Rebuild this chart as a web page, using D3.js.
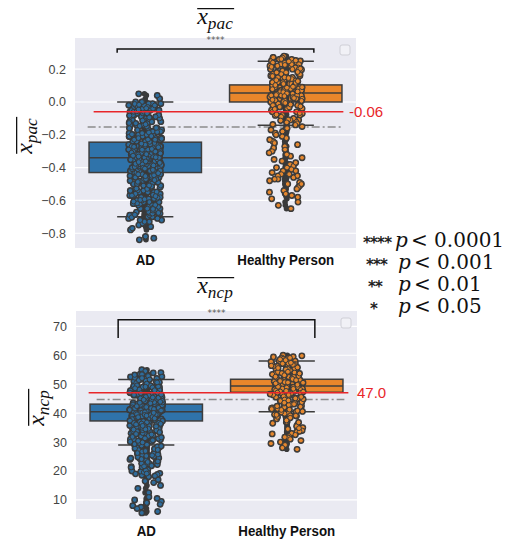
<!DOCTYPE html>
<meta charset="utf-8" />
<title>x_pac / x_ncp : AD vs Healthy Person</title>
<style>
  body { margin: 0; background: #fff; }
  .tick text { font-family: "Liberation Sans", Arial, sans-serif; font-size: 12.5px; fill: #444; }
  .cat { font-family: "Liberation Sans", Arial, sans-serif; font-weight: bold; font-size: 15.5px; fill: #111; }
  .math { font-family: "Liberation Serif", "DejaVu Serif", serif; font-style: italic; fill: #111; }
  .sig { font-family: "DejaVu Serif", serif; font-size: 20px; fill: #111; }
</style>
<body>
<script src="https://d3js.org/d3.v7.min.js"></script>
<script>
// categories
var groups = ["AD", "Healthy Person"];

// strip values, x_pac
var adPac = [
  -0.84, -0.83, -0.82, -0.78, -0.77, -0.76, -0.75, -0.74, -0.73, -0.73, -0.72, -0.72, -0.71, -0.71, -0.70, -0.70, -0.69, -0.69, -0.68, -0.68,
  -0.67, -0.67, -0.66, -0.65, -0.65, -0.64, -0.63, -0.63, -0.62, -0.61, -0.61, -0.60, -0.59, -0.59, -0.58, -0.57, -0.57, -0.56, -0.55, -0.55,
  -0.54, -0.54, -0.53, -0.52, -0.52, -0.51, -0.51, -0.50, -0.50, -0.49, -0.49, -0.48, -0.48, -0.47, -0.47, -0.46, -0.46, -0.46, -0.45, -0.45,
  -0.45, -0.44, -0.44, -0.44, -0.43, -0.43, -0.43, -0.43, -0.42, -0.42, -0.42, -0.42, -0.41, -0.41, -0.41, -0.41, -0.41, -0.40, -0.40, -0.40,
  -0.40, -0.40, -0.39, -0.39, -0.39, -0.39, -0.39, -0.39, -0.38, -0.38, -0.38, -0.38, -0.38, -0.38, -0.37, -0.37, -0.37, -0.37, -0.37, -0.37,
  -0.36, -0.36, -0.36, -0.36, -0.36, -0.36, -0.35, -0.35, -0.35, -0.35, -0.35, -0.35, -0.35, -0.34, -0.34, -0.34, -0.34, -0.34, -0.34, -0.34,
  -0.33, -0.33, -0.33, -0.33, -0.33, -0.33, -0.32, -0.32, -0.32, -0.32, -0.32, -0.32, -0.31, -0.31, -0.31, -0.31, -0.31, -0.31, -0.30, -0.30,
  -0.30, -0.30, -0.30, -0.29, -0.29, -0.29, -0.29, -0.29, -0.28, -0.28, -0.28, -0.28, -0.28, -0.27, -0.27, -0.27, -0.27, -0.26, -0.26, -0.26,
  -0.26, -0.25, -0.25, -0.25, -0.25, -0.24, -0.24, -0.24, -0.23, -0.23, -0.23, -0.22, -0.22, -0.22, -0.21, -0.21, -0.20, -0.20, -0.20, -0.19,
  -0.19, -0.18, -0.18, -0.18, -0.17, -0.17, -0.16, -0.16, -0.15, -0.15, -0.15, -0.14, -0.14, -0.13, -0.13, -0.12, -0.12, -0.11, -0.11, -0.10,
  -0.10, -0.09, -0.09, -0.08, -0.08, -0.07, -0.07, -0.06, -0.06, -0.05, -0.05, -0.04, -0.04, -0.03, -0.03, -0.02, -0.02, -0.01, -0.01, -0.00,
  0.00, 0.00, 0.02, 0.04, 0.05,
  -0.69, -0.67, -0.66, -0.64, -0.62, -0.60, -0.58, -0.56, -0.53, -0.51, -0.49, -0.47, -0.64, -0.61, -0.57, -0.54, -0.50, -0.46, -0.68, -0.59,
  -0.23, -0.21, -0.19, -0.17, -0.14, -0.12, -0.09, -0.07, -0.05, -0.03, -0.01, -0.22, -0.18, -0.16, -0.13, -0.11, -0.08, -0.04, -0.02, -0.20,
  -0.65, -0.63, -0.55, -0.52, -0.48, -0.15, -0.10, -0.06, -0.27, -0.44, -0.36, -0.32, -0.39, -0.29, -0.42, -0.30, -0.38, -0.26, -0.40, -0.34,
  -0.703, -0.662, -0.618, -0.583, -0.541, -0.497, -0.463, -0.418, -0.384, -0.337, -0.302, -0.258, -0.224, -0.183, -0.136, -0.104, -0.057, -0.021, -0.676, -0.644,
  -0.597, -0.566, -0.514, -0.482, -0.447, -0.396, -0.362, -0.318, -0.276, -0.243, -0.197, -0.158, -0.121, -0.083, -0.038, -0.012, -0.671, -0.628, -0.593, -0.548,
  -0.509, -0.471, -0.434, -0.387, -0.352, -0.309, -0.273, -0.229, -0.186, -0.147, -0.113, -0.069, -0.032, -0.687, -0.652, -0.607, -0.574, -0.528, -0.487, -0.452,
  -0.406, -0.371, -0.327, -0.291, -0.254, -0.208, -0.171, -0.128, -0.094, -0.046, -0.017, -0.348, -0.377, -0.414, -0.313, -0.286, -0.441, -0.476, -0.332, -0.366
];
var hpPac = [
  0.28, 0.27, 0.27, 0.26, 0.26, 0.25, 0.25, 0.24, 0.24, 0.23, 0.23, 0.22, 0.22, 0.21, 0.21, 0.20, 0.20, 0.19, 0.19, 0.18,
  0.18, 0.17, 0.17, 0.16, 0.16, 0.15, 0.15, 0.14, 0.14, 0.14, 0.13, 0.13, 0.12, 0.12, 0.12, 0.11, 0.11, 0.11, 0.10, 0.10,
  0.10, 0.09, 0.09, 0.09, 0.08, 0.08, 0.08, 0.07, 0.07, 0.07, 0.06, 0.06, 0.06, 0.05, 0.05, 0.05, 0.04, 0.04, 0.04, 0.03,
  0.03, 0.03, 0.02, 0.02, 0.02, 0.01, 0.01, 0.00, 0.00, -0.01, -0.01, -0.02, -0.02, -0.03, -0.04, -0.04, -0.05, -0.06, -0.07, -0.08,
  -0.09, -0.10, -0.11, -0.12, -0.13, -0.14, -0.15, -0.16, -0.17, -0.18, -0.19, -0.21, -0.22, -0.24, -0.25, -0.27, -0.28, -0.30, -0.31, -0.33,
  -0.34, -0.35, -0.36, -0.38, -0.39, -0.40, -0.41, -0.42, -0.43, -0.44, -0.45, -0.46, -0.47, -0.48, -0.49, -0.50, -0.51, -0.52, -0.54, -0.55,
  -0.56, -0.57, -0.59, -0.61, -0.63, -0.65, -0.20, -0.23, -0.26, -0.29, -0.32, -0.37, -0.40, -0.44, -0.47, -0.50, -0.53, -0.58, -0.45, -0.42,
  0.26, 0.24, 0.22, 0.20, 0.18, 0.16, 0.13, 0.11, 0.09, 0.06, 0.04, 0.01, -0.03, -0.06, -0.08, -0.11, 0.15, 0.19, 0.23, 0.12,
  0.272, 0.253, 0.238, 0.214, 0.197, 0.172, 0.158, 0.133, 0.117, 0.093, 0.078, 0.052, 0.036, 0.013, -0.006, -0.027, -0.043, -0.068, -0.082, -0.107,
  -0.124, 0.262, 0.247, 0.203, 0.168, 0.127, 0.087, 0.043, 0.007, -0.033, -0.077, -0.113, -0.137, 0.226, 0.183, 0.146, 0.103, 0.064, 0.024, -0.016
];

// strip values, x_ncp
var adNcp = [
  55, 54.5, 54, 53.5, 53, 52.5, 52, 52, 51.5, 51, 51, 50.5, 50, 50, 49.5, 49, 49, 48.5, 48, 48,
  47.5, 47, 47, 46.5, 46.5, 46, 46, 45.5, 45.5, 45, 45, 44.5, 44.5, 44, 44, 44, 43.5, 43.5, 43, 43,
  43, 42.5, 42.5, 42.5, 42, 42, 42, 41.5, 41.5, 41.5, 41, 41, 41, 41, 40.5, 40.5, 40.5, 40.5, 40, 40,
  40, 40, 39.5, 39.5, 39.5, 39, 39, 39, 38.5, 38.5, 38.5, 38, 38, 38, 37.5, 37.5, 37, 37, 36.5, 36.5,
  36, 36, 35.5, 35.5, 35, 35, 34.5, 34, 34, 33.5, 33, 33, 32.5, 32, 31.5, 31, 31, 30.5, 30, 29.5,
  29, 28.5, 28, 27.5, 27, 26.5, 26, 25.5, 25, 24.5, 24, 23.5, 23, 22.5, 22, 21.5, 21, 20.5, 20, 19.5,
  19, 18.5, 18, 17, 16.5, 15, 14, 12.5, 11, 10, 9.5, 9, 8.5, 8, 7.5, 7, 6, 5.5, 16, 10.5,
  52.8, 51.2, 49.8, 48.3, 46.8, 45.2, 43.8, 42.2, 40.8, 39.2, 37.8, 36.2, 34.8, 33.2, 31.8, 30.2, 28.8, 27.2, 25.8, 24.2,
  22.8, 21.2, 19.8, 50.7, 47.3, 44.7, 41.7, 38.3, 35.7, 32.7, 29.7, 26.7, 23.7, 20.7, 53.7, 45.8, 37.2, 30.8, 24.8, 42.8,
  48.7, 46.2, 43.2, 39.8, 36.8, 33.8, 28.2, 25.2, 22.2, 19.2, 51.8, 49.2, 41.2, 34.2, 27.8, 21.8, 18.8, 44.2, 38.8, 31.2,
  52.2, 50.2, 48.9, 47.8, 46.1, 45.7, 44.9, 43.4, 42.7, 41.8, 40.2, 39.7, 38.1, 37.3, 36.7, 35.2, 34.6, 33.7, 32.3, 30.6,
  53.2, 51.6, 50.9, 49.4, 47.1, 46.6, 45.3, 44.1, 42.3, 41.3, 40.7, 39.3, 38.7, 37.7, 36.3, 35.8, 34.3, 32.8, 29.3, 26.2,
  53.4, 50.4, 47.6, 45.1, 42.9, 40.3, 38.2, 35.4, 33.1, 30.4, 27.6, 24.4, 21.3, 18.3, 52.6, 49.6, 46.4, 43.7, 41.1, 38.9,
  36.4, 34.1, 31.6, 28.4, 25.7, 22.6, 19.6, 51.4, 48.1, 45.6, 42.1, 39.4, 37.1, 34.9, 32.1, 29.9, 26.9, 23.3, 20.2, 47.9,
  44.3, 41.6, 38.4, 35.1, 31.3, 27.3, 23.1, 53.9, 50.6, 46.9, 43.6, 40.9, 37.9, 34.4, 30.1, 25.4, 21.6, 52.1, 48.6, 45.4,
  42.4, 39.6, 36.6, 33.4, 29.1, 24.1, 19.1, 44.6, 41.4, 38.6, 35.6, 32.6, 28.6, 49.1, 46.3, 43.9, 40.1, 37.4, 36.1, 39.1
];
var hpNcp = [
  60, 59.5, 59, 58.5, 58, 58, 57.5, 57, 57, 56.5, 56, 56, 55.5, 55, 55, 54.5, 54, 54, 53.5, 53,
  53, 52.5, 52.5, 52, 52, 51.5, 51.5, 51, 51, 50.5, 50.5, 50, 50, 50, 49.5, 49.5, 49, 49, 49, 48.5,
  48.5, 48, 48, 48, 47.5, 47.5, 47, 47, 46.5, 46.5, 46, 46, 45.5, 45, 45, 44.5, 44, 43.5, 43, 42.5,
  42, 41.5, 41, 40.5, 40, 39.5, 39, 38.5, 38, 37, 36, 35, 34, 33.5, 33, 32, 31.5, 31, 30, 29,
  28, 27.5, 59.2, 57.8, 56.2, 54.8, 53.2, 51.8, 50.2, 48.8, 47.2, 45.8, 44.2, 42.8, 41.2, 39.8, 58.8, 55.8, 52.8, 49.8,
  46.8, 43.8, 40.8, 57.2, 54.2, 51.2, 48.2, 45.2, 42.2, 39.2, 36.5, 34.5, 32.5, 30.5, 56.8, 53.8, 50.8, 47.8, 44.8, 41.8,
  59.8, 58.2, 56.7, 55.3, 53.7, 52.3, 50.7, 49.3, 47.7, 46.3, 44.7, 43.3, 41.7, 40.3, 38.7, 37.5, 35.5, 33.7, 31.7, 29.5,
  59.4, 58.6, 57.4, 56.4, 55.6, 54.4, 53.4, 52.6, 51.4, 50.6, 49.6, 48.4, 47.4, 46.6, 45.6, 44.4, 43.6, 42.4, 41.4, 40.6,
  39.4, 38.4, 59.1, 57.1, 55.1, 53.1, 51.1, 49.1, 47.1, 45.1, 43.1, 41.1, 39.1, 36.8, 34.8, 32.8, 58.3, 54.3, 50.3, 46.3
];

// box summaries: lower whisker, Q1, median, Q3, upper whisker
var pacBox = [[-0.70, -0.43, -0.34, -0.245, 0.0], [-0.142, 0.0, 0.055, 0.104, 0.248]];
var ncpBox = [[29.0, 37.3, 40.5, 43.1, 51.6], [40.5, 47.2, 49.4, 51.7, 58.0]];

// axis limits and ticks
var pacDomain = [-0.89, 0.39], pacTicks = [-0.8, -0.6, -0.4, -0.2, 0.0, 0.2];
var ncpDomain = [3.4, 75.3], ncpTicks = [10, 20, 30, 40, 50, 60, 70];

// reference lines: red threshold, grey dash-dot
var pacLines = [-0.06, -0.152], ncpLines = [47.0, 44.7];
var pacLabels = ["-0.06"], ncpLabels = ["47.0"];
// significance bracket: bar level, leg end
var pacBracket = [0.323, 0.300], ncpBracket = [72.3, 66.0];

var sigStars = ["****", "***", "**", "*"];
var sigLevels = ["0.0001", "0.001", "0.01", "0.05"];

var boxColor = ["#2f73aa", "#e9862b"],
  dotColor = ["#2e6c9c", "#e5872e"];

var svg = d3.select("body").append("svg").attr("width", 510).attr("height", 544);

// pseudo jitter, fixed per point
function jit(i, k) {
  var s = Math.sin((i + 1) * 127.1 + k * 311.7) * 43758.5453;
  return (s - Math.floor(s)) * 2 - 1;
}

// x with overline and subscript
function mathText(parent, sub, size) {
  var t = parent.append("text").attr("class", "math")
    .attr("font-size", size).attr("text-anchor", "middle");
  t.append("tspan").text("x");
  t.append("tspan").attr("font-size", size * 0.72).attr("dy", size * 0.22).text(sub);
  var bb = t.node().getBBox();
  parent.append("line")
    .attr("x1", bb.x + 1).attr("x2", bb.x + bb.width + 1)
    .attr("y1", -size * 0.64).attr("y2", -size * 0.64)
    .attr("stroke", "#111").attr("stroke-width", 1.3);
}

function drawPanel(c) {
  var x = d3.scaleBand().domain(groups).range([c.left, c.right]);
  var y = d3.scaleLinear().domain(c.domain).range([c.bottom, c.top]);
  var bw = x.bandwidth();
  var cx = function(i) { return x(groups[i]) + bw / 2; };
  var jx = function(i) { return function(d, j) { return cx(i) + jit(j, i + c.seed) * bw * 0.118; }; };
  var g = svg.append("g");

  g.append("rect")
    .attr("x", c.left).attr("y", c.top)
    .attr("width", c.right - c.left).attr("height", c.bottom - c.top)
    .attr("fill", "#eaeaf2");

  g.append("g").selectAll("line").data(c.ticks).join("line")
    .attr("x1", c.left).attr("x2", c.right)
    .attr("y1", y).attr("y2", y)
    .attr("stroke", "#fff").attr("stroke-width", 1.2);

  var ax = g.append("g")
    .attr("transform", "translate(" + c.left + ",0)")
    .call(d3.axisLeft(y).tickValues(c.ticks).tickSize(0).tickPadding(9).tickFormat(c.fmt));
  ax.select(".domain").remove();

  // category names, squeezed to look like a narrow bold face
  groups.forEach(function(d, i) {
    g.append("text")
      .attr("class", "cat")
      .attr("transform", "translate(" + cx(i) + "," + (c.bottom + 17) + ") scale(0.86,1)")
      .attr("text-anchor", "middle")
      .text(d);
  });

  // grey dash-dot line (under points)
  var lx0 = c.left + (c.right - c.left) * 0.045, lx1 = c.left + (c.right - c.left) * 0.955;
  g.append("line")
    .attr("x1", lx0 + c.dashShift).attr("x2", lx1)
    .attr("y1", y(c.lines[1])).attr("y2", y(c.lines[1]))
    .attr("stroke", "#8c8c8c").attr("stroke-width", 1.5)
    .attr("stroke-dasharray", "8,3,2,3");

  // boxes
  c.box.forEach(function(b, i) {
    var w = bw * 0.8, cap = bw * 0.4, xc = cx(i);
    var bg = g.append("g").attr("stroke", "#3d3d3d").attr("stroke-width", 1.5);
    bg.append("line").attr("x1", xc).attr("x2", xc).attr("y1", y(b[0])).attr("y2", y(b[1]));
    bg.append("line").attr("x1", xc).attr("x2", xc).attr("y1", y(b[3])).attr("y2", y(b[4]));
    bg.append("line").attr("x1", xc - cap / 2).attr("x2", xc + cap / 2).attr("y1", y(b[0])).attr("y2", y(b[0]));
    bg.append("line").attr("x1", xc - cap / 2).attr("x2", xc + cap / 2).attr("y1", y(b[4])).attr("y2", y(b[4]));
    bg.append("rect")
      .attr("x", xc - w / 2).attr("width", w)
      .attr("y", y(b[3])).attr("height", y(b[1]) - y(b[3]))
      .attr("fill", boxColor[i]);
    bg.append("line").attr("x1", xc - w / 2).attr("x2", xc + w / 2).attr("y1", y(b[2])).attr("y2", y(b[2]));
  });

  // dark centre column, dark halo under each point, then coloured points
  c.values.forEach(function(vals, i) {
    g.append("g").selectAll("circle").data(vals).join("circle")
      .attr("cx", function(d, j) { return cx(i) + jit(j, 7 + i) * 1.2; })
      .attr("cy", function(d) { return y(d); })
      .attr("r", 2.8).attr("fill", "#3a3a3a");
    g.append("g").selectAll("circle").data(vals).join("circle")
      .attr("cx", jx(i))
      .attr("cy", function(d) { return y(d); })
      .attr("r", 3.4).attr("fill", "#3a3a3a");
  });
  c.values.forEach(function(vals, i) {
    g.append("g").selectAll("circle").data(vals).join("circle")
      .attr("cx", jx(i))
      .attr("cy", function(d) { return y(d); })
      .attr("r", 2.4)
      .attr("fill", dotColor[i])
      .attr("stroke", "#3a3a3a").attr("stroke-width", 1);
  });

  // red threshold
  g.append("line")
    .attr("x1", lx0 + c.redShift).attr("x2", lx1 + c.redEnd)
    .attr("y1", y(c.lines[0])).attr("y2", y(c.lines[0]))
    .attr("stroke", "#e8262a").attr("stroke-width", 1.5);
  g.append("text")
    .attr("x", c.labelX).attr("y", y(c.lines[0]))
    .attr("dy", "0.36em")
    .attr("font-family", "Liberation Sans, Arial, sans-serif")
    .attr("font-size", 15).attr("fill", "#e8262a")
    .text(c.labels[0]);

  // significance bracket
  var bx0 = cx(0) - bw * 0.2, bx1 = cx(1) + bw * 0.2;
  g.append("path")
    .attr("d", "M" + bx0 + "," + y(c.bracket[1]) + "V" + y(c.bracket[0]) + "H" + bx1 + "V" + y(c.bracket[1]))
    .attr("fill", "none").attr("stroke", "#111").attr("stroke-width", 1.5);
  g.append("text")
    .attr("x", (bx0 + bx1) / 2).attr("y", c.top + 5)
    .attr("text-anchor", "middle")
    .attr("font-family", "DejaVu Sans, sans-serif").attr("font-size", 9).attr("fill", "#555")
    .text("****");

  // empty legend box
  g.append("rect")
    .attr("x", c.right - 16).attr("y", c.top + 7)
    .attr("width", 10).attr("height", 10).attr("rx", 2)
    .attr("fill", "#f1f1f6").attr("stroke", "#cfcfd6");

  mathText(svg.append("g").attr("transform", "translate(215," + c.titleY + ")"), c.sub, 24);
  mathText(svg.append("g").attr("transform", "translate(" + c.ylabX + "," + ((c.top + c.bottom) / 2 + c.ylabDy) + ") rotate(-90)"), c.sub, 24);
}

drawPanel({
  sub: "pac", values: [adPac, hpPac], box: pacBox, domain: pacDomain, ticks: pacTicks,
  lines: pacLines, labels: pacLabels, bracket: pacBracket, fmt: d3.format(".1f"),
  left: 75, right: 356, top: 38, bottom: 248, seed: 3,
  titleY: 24, ylabX: 32, ylabDy: -7, labelX: 349, dashShift: 0, redShift: 6, redEnd: 0
});
drawPanel({
  sub: "ncp", values: [adNcp, hpNcp], box: ncpBox, domain: ncpDomain, ticks: ncpTicks,
  lines: ncpLines, labels: ncpLabels, bracket: ncpBracket, fmt: d3.format("d"),
  left: 76, right: 357, top: 311, bottom: 519, seed: 11,
  titleY: 293, ylabX: 44, ylabDy: -7, labelX: 357, dashShift: 8, redShift: 0, redEnd: 4
});

// significance key
var keyStarX = [363, 366, 368, 370], keyPX = [395, 398, 398, 398];
sigStars.forEach(function(s, i) {
  var yb = 246.5 + i * 22.2;
  svg.append("text")
    .attr("x", keyStarX[i]).attr("y", yb + 1)
    .attr("font-family", "DejaVu Sans, sans-serif").attr("font-size", 15)
    .attr("font-weight", "bold").attr("letter-spacing", -0.8).attr("fill", "#222")
    .text(s);
  svg.append("text").attr("class", "sig")
    .attr("x", keyPX[i]).attr("y", yb)
    .attr("font-style", "italic")
    .text("p");
  svg.append("text").attr("class", "sig")
    .attr("x", keyPX[i] + 16).attr("y", yb)
    .text("< " + sigLevels[i]);
});
</script>
</body>
